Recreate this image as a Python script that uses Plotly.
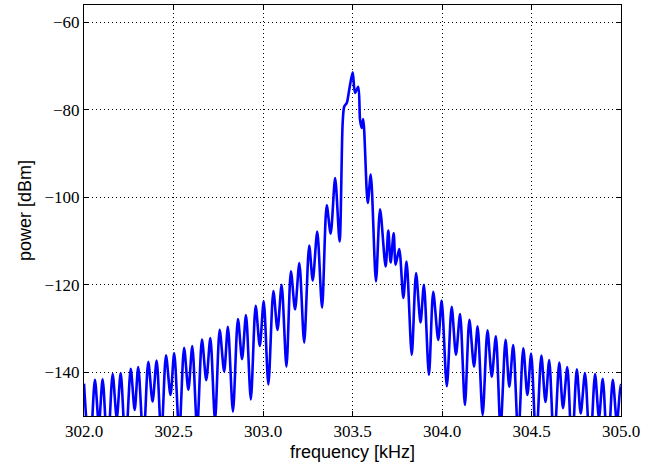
import plotly.graph_objects as go

# frequency [kHz] and power [dBm]
freq_khz = [
    302.000, 302.032,
    302.061, 302.083, 302.104, 302.132,
    302.160, 302.183, 302.205, 302.232,
    302.261, 302.283, 302.303, 302.332,
    302.359, 302.383, 302.406, 302.432,
    302.458, 302.483, 302.504, 302.532,
    302.559, 302.583, 302.605, 302.632,
    302.659, 302.683, 302.706, 302.732,
    302.758, 302.783, 302.804, 302.832,
    302.860, 302.883, 302.905, 302.932,
    302.959, 302.982, 303.004, 303.030,
    303.058, 303.081, 303.104, 303.131,
    303.156, 303.179, 303.203, 303.230,
    303.258, 303.278, 303.303, 303.330,
    303.356, 303.378, 303.403, 303.428,
    303.445, 303.454, 303.468, 303.482, 303.501, 303.514, 303.532,
    303.542, 303.551, 303.560, 303.585, 303.602, 303.631, 303.654,
    303.685, 303.700, 303.713, 303.730, 303.741, 303.761, 303.784,
    303.802, 303.831,
    303.855, 303.880, 303.899, 303.927,
    303.951, 303.979, 303.998, 304.027,
    304.054, 304.078, 304.101, 304.128,
    304.153, 304.179, 304.199, 304.227,
    304.254, 304.278, 304.301, 304.327,
    304.355, 304.376, 304.398, 304.426,
    304.454, 304.477, 304.498, 304.526,
    304.555, 304.578, 304.599, 304.626,
    304.655, 304.676, 304.700, 304.726,
    304.753, 304.775, 304.799, 304.827,
    304.855, 304.877, 304.898, 304.926,
    304.954, 304.977, 304.998, 305.000,
]

power_dbm = [
    -142.6, -159.0,
    -141.7, -152.0, -141.6, -158.0,
    -140.4, -150.5, -140.2, -157.0,
    -139.2, -148.6, -138.8, -156.0,
    -137.6, -146.7, -137.3, -155.0,
    -136.1, -145.2, -135.6, -154.0,
    -134.4, -144.0, -134.0, -153.0,
    -132.5, -141.8, -132.2, -151.0,
    -130.3, -139.8, -129.6, -149.0,
    -127.8, -137.0, -126.9, -146.2,
    -124.8, -134.0, -123.7, -142.8,
    -121.4, -130.3, -120.0, -138.7,
    -116.9, -125.6, -115.0, -133.2,
    -111.0, -119.0, -107.8, -125.2,
    -101.8, -108.3, -95.6, -110.1,
    -83.0, -79.2, -78.4, -75.3, -71.4, -76.1, -74.7,
    -82.2, -84.1, -82.1, -101.3, -94.8, -119.2, -102.7,
    -115.8, -107.6, -114.9, -108.2, -115.4, -111.8, -123.0,
    -114.7, -136.0,
    -117.3, -128.6, -120.0, -140.6,
    -121.6, -132.6, -123.6, -143.2,
    -125.0, -136.0, -126.7, -147.5,
    -128.0, -138.7, -129.5, -149.8,
    -130.4, -141.0, -131.8, -153.0,
    -132.6, -143.3, -133.8, -155.0,
    -134.5, -145.2, -135.7, -156.0,
    -136.2, -146.8, -137.2, -157.0,
    -137.8, -148.2, -138.8, -158.0,
    -139.3, -149.4, -140.2, -158.0,
    -140.4, -150.5, -141.5, -159.0,
    -141.7, -151.5, -142.9, -143.0,
]

x_ticks = [302.0, 302.5, 303.0, 303.5, 304.0, 304.5, 305.0]
x_tick_text = ["302.0", "302.5", "303.0", "303.5", "304.0", "304.5", "305.0"]
y_ticks = [-140, -120, -100, -80, -60]

fig = go.Figure()
fig.add_trace(go.Scatter(
    x=freq_khz, y=power_dbm, mode="lines",
    line=dict(color="#0000ff", width=2.6, shape="spline", smoothing=0.8),
    showlegend=False, hoverinfo="skip",
))

axis_common = dict(
    showline=True, linecolor="black", linewidth=1, mirror="allticks",
    ticks="inside", ticklen=5, tickcolor="black", tickwidth=1,
    showgrid=True, gridcolor="black", gridwidth=1, griddash="1px,3px",
    zeroline=False,
    tickfont=dict(family="Liberation Serif, DejaVu Serif, serif", size=17, color="black"),
    title_font=dict(family="Liberation Sans, Arial, sans-serif", size=18, color="black"),
)

fig.update_xaxes(
    range=[302.0, 305.0], tickvals=x_ticks, ticktext=x_tick_text,
    title_text="frequency [kHz]", title_standoff=4, automargin=False, **axis_common,
)
fig.update_yaxes(
    range=[-150, -56], tickvals=y_ticks,
    title_text="power [dBm]", title_standoff=8, automargin=False, **axis_common,
)

fig.update_layout(
    width=662, height=470,
    margin=dict(l=84, r=41, t=5, b=54),
    paper_bgcolor="white", plot_bgcolor="white",
)

fig.write_html(
    "out.html",
    config={"displayModeBar": False},
    post_script="document.body.style.margin='0';document.body.style.padding='0';",
)
